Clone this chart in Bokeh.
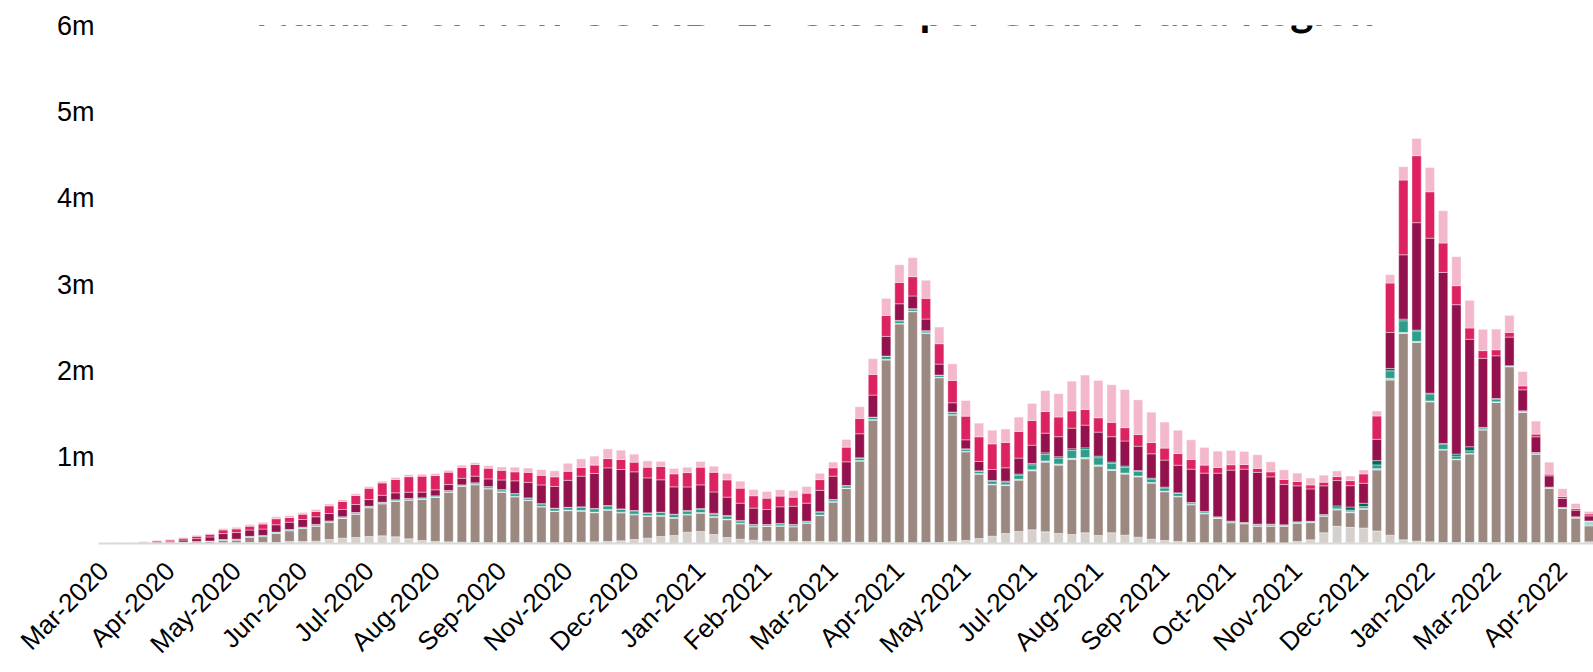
import numpy as np
import pandas as pd
from bokeh.plotting import figure
from bokeh.models import ColumnDataSource, FixedTicker, Range1d, Label
from bokeh.embed import file_html
from bokeh.resources import INLINE

# ---- data (weekly new cases, millions) ----
weeks = [d.strftime("%Y-%m-%d") for d in pd.date_range("2020-03-01", periods=113, freq="7D")]

dark_brown = [0]*93 + [0.005, 0.012, 0.012, 0.008] + [0]*16

light_grey = [0.003, 0.002, 0.001, 0.002, 0.002, 0.003, 0.003, 0.006, 0.006, 0.010,
              0.010, 0.013, 0.013, 0.012, 0.023, 0.023, 0.027, 0.046, 0.062, 0.070,
              0.081, 0.089, 0.077, 0.054, 0.035, 0.023, 0.019, 0.015, 0.012, 0.010,
              0.010, 0.010, 0.010, 0.010, 0.010, 0.010, 0.015, 0.020, 0.023, 0.031,
              0.046, 0.062, 0.081, 0.093, 0.131, 0.139, 0.104, 0.070, 0.050, 0.039,
              0.027, 0.027, 0.023, 0.023, 0.023, 0.019, 0.015, 0.015, 0.015, 0.008,
              0.008, 0.008, 0.012, 0.012, 0.023, 0.035, 0.058, 0.085, 0.116, 0.139,
              0.158, 0.135, 0.116, 0.104, 0.124, 0.093, 0.124, 0.097, 0.073, 0.050,
              0.035, 0.023, 0.015, 0.008, 0.008, 0.008, 0.008, 0.008, 0.004, 0.004,
              0.023, 0.042, 0.124, 0.195, 0.175, 0.168, 0.137, 0.097, 0.042, 0.027,
              0.019, 0.012, 0.012, 0.012, 0.012, 0.012, 0.008, 0.008, 0.008, 0.008,
              0.008, 0.012, 0.019]

brown_grey = [0.000, 0.001, 0.001, 0.002, 0.005, 0.008, 0.012, 0.015, 0.017, 0.027,
              0.030, 0.058, 0.066, 0.108, 0.124, 0.150, 0.174, 0.197, 0.228, 0.270,
              0.332, 0.370, 0.410, 0.448, 0.475, 0.510, 0.575, 0.645, 0.668, 0.622,
              0.583, 0.530, 0.487, 0.413, 0.360, 0.370, 0.360, 0.336, 0.363, 0.324,
              0.286, 0.251, 0.236, 0.200, 0.200, 0.212, 0.200, 0.205, 0.178, 0.154,
              0.170, 0.174, 0.170, 0.212, 0.300, 0.460, 0.622, 0.939, 1.414, 2.117,
              2.534, 2.677, 2.422, 1.908, 1.464, 1.027, 0.745, 0.595, 0.556, 0.595,
              0.684, 0.807, 0.792, 0.869, 0.857, 0.803, 0.722, 0.707, 0.699, 0.649,
              0.564, 0.518, 0.433, 0.336, 0.282, 0.232, 0.220, 0.193, 0.197, 0.193,
              0.209, 0.200, 0.189, 0.189, 0.170, 0.216, 0.707, 1.796, 2.391, 2.302,
              1.622, 1.070, 0.958, 1.024, 1.302, 1.622, 2.039, 1.510, 1.027, 0.630,
              0.398, 0.282, 0.185]

light_teal = [0, 0, 0, 0, 0, 0, 0, 0, 0.001, 0.002,
              0.002, 0.002, 0.003, 0.002, 0.003, 0.003, 0.004, 0.004, 0.004, 0.004,
              0.004, 0.004, 0.004, 0.004, 0.004, 0.004, 0.004, 0.004, 0.005, 0.005,
              0.006, 0.007, 0.006, 0.007, 0.007, 0.007, 0.008, 0.008, 0.009, 0.008,
              0.008, 0.007, 0.008, 0.008, 0.008, 0.008, 0.008, 0.008, 0.007, 0.005,
              0.005, 0.006, 0.005, 0.005, 0.008, 0.006, 0.006, 0.007, 0.006, 0.008,
              0.007, 0.006, 0.006, 0.006, 0.006, 0.006, 0.007, 0.008, 0.008, 0.010,
              0.012, 0.014, 0.013, 0.015, 0.015, 0.014, 0.012, 0.012, 0.010, 0.008,
              0.008, 0.007, 0.005, 0.005, 0.004, 0.004, 0.003, 0.004, 0.004, 0.004,
              0.004, 0.003, 0.004, 0.008, 0.010, 0.012, 0.015, 0.020, 0.012, 0.012,
              0.010, 0.008, 0.008, 0.008, 0.005, 0.008, 0.003, 0.004, 0.004, 0.003,
              0.003, 0.004, 0.050]

teal = [0, 0, 0, 0, 0.001, 0.001, 0.002, 0.003, 0.004, 0.006,
        0.008, 0.010, 0.012, 0.010, 0.012, 0.013, 0.016, 0.015, 0.015, 0.015,
        0.015, 0.015, 0.015, 0.015, 0.015, 0.015, 0.015, 0.015, 0.018, 0.020,
        0.023, 0.029, 0.023, 0.029, 0.029, 0.029, 0.038, 0.038, 0.040, 0.034,
        0.038, 0.031, 0.034, 0.034, 0.036, 0.038, 0.026, 0.032, 0.026, 0.018,
        0.015, 0.021, 0.018, 0.015, 0.032, 0.021, 0.025, 0.028, 0.025, 0.033,
        0.030, 0.025, 0.021, 0.021, 0.025, 0.025, 0.027, 0.032, 0.032, 0.048,
        0.058, 0.076, 0.068, 0.089, 0.092, 0.084, 0.070, 0.066, 0.052, 0.040,
        0.036, 0.031, 0.017, 0.017, 0.012, 0.012, 0.009, 0.015, 0.015, 0.012,
        0.012, 0.009, 0.013, 0.016, 0.020, 0.020, 0.043, 0.088, 0.135, 0.120,
        0.082, 0.062, 0.035, 0.030, 0.018, 0.030, 0.006, 0.012, 0.012, 0.009,
        0.007, 0.009, 0.006]

dark_teal = [0]*29 + [0.002, 0.002, 0.003, 0.002, 0.003, 0.003, 0.003, 0.004, 0.004, 0.005,
             0.004, 0.004, 0.004, 0.004, 0.004, 0.006, 0.008, 0.012, 0.010, 0.006, 0.004,
             0.003, 0.004, 0.004, 0.003, 0.006, 0.004, 0.004, 0.004, 0.004, 0.005,
             0.005, 0.004, 0.004, 0.004, 0.004, 0.004, 0.005, 0.010, 0.010, 0.012,
             0.015, 0.018, 0.016, 0.020, 0.020, 0.018, 0.015, 0.015, 0.011, 0.010,
             0.010, 0.008, 0.005, 0.005, 0.003, 0.003, 0.003, 0.004, 0.004, 0.003,
             0.003, 0.003, 0.006, 0.022, 0.036, 0.038, 0.050, 0.027, 0.019, 0.011,
             0.008, 0.007, 0.023, 0.047, 0.008, 0.008, 0.003, 0.003, 0.003, 0.003,
             0.002, 0.002, 0.002]

magenta = [0.001, 0.002, 0.002, 0.004, 0.010, 0.015, 0.023, 0.032, 0.048, 0.070,
           0.077, 0.073, 0.073, 0.085, 0.085, 0.089, 0.089, 0.085, 0.085, 0.093,
           0.077, 0.081, 0.081, 0.073, 0.066, 0.070, 0.070, 0.077, 0.077, 0.089,
           0.112, 0.147, 0.180, 0.216, 0.251, 0.313, 0.355, 0.405, 0.436, 0.456,
           0.448, 0.405, 0.375, 0.317, 0.274, 0.274, 0.247, 0.212, 0.200, 0.190,
           0.174, 0.193, 0.212, 0.209, 0.247, 0.270, 0.274, 0.278, 0.255, 0.228,
           0.193, 0.147, 0.135, 0.127, 0.108, 0.104, 0.108, 0.127, 0.155, 0.185,
           0.212, 0.228, 0.232, 0.239, 0.263, 0.278, 0.294, 0.290, 0.282, 0.282,
           0.313, 0.320, 0.386, 0.444, 0.506, 0.591, 0.618, 0.600, 0.548, 0.467,
           0.417, 0.375, 0.332, 0.294, 0.247, 0.232, 0.247, 0.417, 0.745, 1.244,
           1.796, 1.981, 1.730, 1.244, 0.800, 0.494, 0.332, 0.243, 0.182, 0.131,
           0.104, 0.077, 0.058]

red = [0.001, 0.001, 0.002, 0.006, 0.012, 0.013, 0.022, 0.028, 0.030, 0.042,
       0.042, 0.045, 0.058, 0.070, 0.054, 0.062, 0.062, 0.089, 0.093, 0.104,
       0.131, 0.143, 0.155, 0.180, 0.185, 0.166, 0.143, 0.124, 0.135, 0.124,
       0.112, 0.104, 0.116, 0.112, 0.112, 0.104, 0.100, 0.097, 0.108, 0.116,
       0.112, 0.124, 0.155, 0.151, 0.166, 0.205, 0.228, 0.200, 0.174, 0.143,
       0.131, 0.124, 0.104, 0.116, 0.124, 0.097, 0.170, 0.178, 0.240, 0.243,
       0.247, 0.224, 0.240, 0.236, 0.259, 0.274, 0.286, 0.297, 0.294, 0.309,
       0.286, 0.251, 0.228, 0.200, 0.182, 0.166, 0.166, 0.155, 0.135, 0.131,
       0.139, 0.135, 0.112, 0.093, 0.066, 0.062, 0.054, 0.046, 0.058, 0.058,
       0.050, 0.046, 0.042, 0.046, 0.058, 0.108, 0.270, 0.572, 0.865, 0.776,
       0.537, 0.340, 0.220, 0.131, 0.089, 0.070, 0.054, 0.046, 0.031, 0.019,
       0.023, 0.019, 0.023]

pink = [0.002, 0.003, 0.004, 0.010, 0.008, 0.008, 0.008, 0.012, 0.011, 0.017,
        0.018, 0.020, 0.021, 0.023, 0.023, 0.020, 0.023, 0.023, 0.020, 0.020,
        0.020, 0.020, 0.023, 0.023, 0.023, 0.023, 0.023, 0.027, 0.020, 0.031,
        0.039, 0.054, 0.050, 0.066, 0.070, 0.093, 0.100, 0.104, 0.112, 0.108,
        0.093, 0.073, 0.058, 0.062, 0.062, 0.066, 0.070, 0.073, 0.081, 0.073,
        0.077, 0.073, 0.077, 0.077, 0.073, 0.066, 0.089, 0.135, 0.182, 0.197,
        0.205, 0.220, 0.209, 0.193, 0.193, 0.182, 0.158, 0.158, 0.155, 0.166,
        0.197, 0.243, 0.270, 0.344, 0.398, 0.433, 0.436, 0.440, 0.402, 0.351,
        0.301, 0.270, 0.228, 0.205, 0.189, 0.166, 0.151, 0.158, 0.116, 0.112,
        0.097, 0.081, 0.081, 0.066, 0.054, 0.046, 0.058, 0.097, 0.155, 0.200,
        0.282, 0.375, 0.336, 0.321, 0.247, 0.239, 0.197, 0.166, 0.151, 0.139,
        0.089, 0.058, 0.027]

tick_labels = ["Mar-2020", "Apr-2020", "May-2020", "Jun-2020", "Jul-2020", "Aug-2020",
               "Sep-2020", "Nov-2020", "Dec-2020", "Jan-2021", "Feb-2021", "Mar-2021",
               "Apr-2021", "May-2021", "Jul-2021", "Aug-2021", "Sep-2021", "Oct-2021",
               "Nov-2021", "Dec-2021", "Jan-2022", "Mar-2022", "Apr-2022"]
y_tick_labels = ["", "1m", "2m", "3m", "4m", "5m", "6m"]

series = ["Region A", "Region B", "Region C", "Region D", "Region E",
          "Region F", "Region G", "Region H", "Region I"]
values = [dark_brown, light_grey, brown_grey, light_teal, teal, dark_teal, magenta, red, pink]
colors = ["#5d4a40", "#d5d0cb", "#9b8880", "#a7ddd2", "#2e9e8c", "#006a55",
          "#93124d", "#dc2260", "#f3b8cb"]

data = {"x": list(range(len(weeks))), "week": weeks}
for name, vals in zip(series, values):
    data[name] = vals
source = ColumnDataSource(data)

p = figure(width=1593, height=672, output_backend="svg", toolbar_location=None,
           x_range=Range1d(-0.4, 112.34), y_range=Range1d(0, 6),
           min_border_left=98, min_border_right=0, min_border_top=25,
           min_border_bottom=129)
p.outline_line_color = None
p.xgrid.visible = False
p.ygrid.visible = False

p.vbar_stack(series, x="x", width=0.7, source=source, color=colors,
             line_color="white", line_alpha=0.5, line_width=0.8)

xt = list(range(0, len(tick_labels) * 5, 5))
p.xaxis.ticker = FixedTicker(ticks=xt)
p.xaxis.major_label_overrides = {t: l for t, l in zip(xt, tick_labels)}
p.xaxis.major_label_orientation = np.pi / 4
p.xaxis.axis_line_color = "#d9d9d9"
p.xaxis.axis_line_width = 2
p.xaxis.major_tick_line_color = None
p.xaxis.minor_tick_line_color = None
p.xaxis.major_tick_out = 0
p.xaxis.major_tick_in = 0
p.xaxis.major_label_standoff = 23
p.xaxis.major_label_text_font = "Liberation Sans"
p.xaxis.major_label_text_font_size = "26px"
p.xaxis.major_label_text_color = "black"

yt = list(range(len(y_tick_labels)))
p.yaxis.ticker = FixedTicker(ticks=yt)
p.yaxis.major_label_overrides = {t: l for t, l in zip(yt, y_tick_labels)}
p.yaxis.axis_line_color = None
p.yaxis.major_tick_line_color = None
p.yaxis.minor_tick_line_color = None
p.yaxis.major_tick_out = 0
p.yaxis.major_tick_in = 0
p.yaxis.major_label_standoff = 4
p.yaxis.major_label_text_font = "Liberation Sans"
p.yaxis.major_label_text_font_size = "27px"
p.yaxis.major_label_text_color = "black"

title = Label(x=157, y=535, x_units="screen", y_units="screen",
              text="Number of New COVID-19 Cases per Global Fund Region",
              text_font="Lato", text_font_style="bold", text_font_size="44px",
              text_color="black", text_baseline="alphabetic", text_align="left")
p.add_layout(title)

open("out.html", "w").write(file_html(p, INLINE))
